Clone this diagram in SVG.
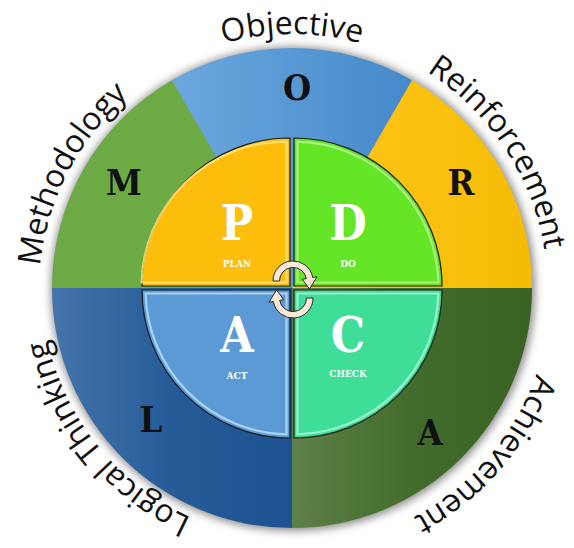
<svg xmlns="http://www.w3.org/2000/svg" width="574" height="548" viewBox="0 0 574 548">
<style>
.word{font-family:"Open Sans","Liberation Sans",sans-serif;font-size:32px;fill:#111}
.big{font-family:"DejaVu Serif","Liberation Serif",serif;font-weight:bold;font-stretch:condensed;text-anchor:middle}
.outer-letter{font-size:36px;fill:#111}
.inner-letter{font-size:48px;fill:#fff}
.inner-label{font-size:10px;fill:#fff}
.quad{stroke:#1a1a1a;stroke-width:1.2}
.hl{fill:none;stroke-width:2.2;opacity:0.85}
.arrow{fill:#FBE8D8;stroke:#2a2a2a;stroke-width:1}
</style>
<defs>
<filter id="shadow" x="-20%" y="-20%" width="140%" height="140%">
<feGaussianBlur stdDeviation="4"/>
</filter>
<linearGradient id="gM" x1="0" y1="0" x2="1" y2="0"><stop offset="0" stop-color="#6CAA45"/><stop offset="1" stop-color="#6DAC44"/></linearGradient>
<linearGradient id="gO" x1="0" y1="0" x2="1" y2="0"><stop offset="0" stop-color="#6AA8DE"/><stop offset="1" stop-color="#4689CB"/></linearGradient>
<linearGradient id="gR" x1="0" y1="0" x2="1" y2="0"><stop offset="0" stop-color="#FFC61A"/><stop offset="1" stop-color="#F5BC05"/></linearGradient>
<linearGradient id="gL" x1="0" y1="0" x2="1" y2="0"><stop offset="0" stop-color="#4574AA"/><stop offset="0.5" stop-color="#255C98"/><stop offset="1" stop-color="#1D5290"/></linearGradient>
<linearGradient id="gA" x1="0" y1="0" x2="1" y2="0"><stop offset="0" stop-color="#5E8049"/><stop offset="0.5" stop-color="#426C2B"/><stop offset="1" stop-color="#3A6323"/></linearGradient>
<path id="pObj" d="M37,289 A255,255 0 0 1 547,289"/>
<path id="pMet" d="M172.9,517.8 A258,258 0 0 1 411.1,60.2"/>
<path id="pRei" d="M148,71.4 A261,261 0 0 1 436,506.6"/>
<path id="pLog" d="M451.2,485.6 A253,253 0 0 1 132.8,92.4"/>
<path id="pAch" d="M462.5,90.1 A262,262 0 0 1 121.5,487.9"/>
</defs>

<circle cx="293" cy="289" r="242" fill="#8a8a8a" filter="url(#shadow)"/>

<g id="sector-M">
<path d="M292,288 L52,288 A240,240 0 0 1 172,80.2 Z" fill="url(#gM)"/>
<text class="big outer-letter" x="124" y="195">M</text>
<text class="word"><textPath href="#pMet" startOffset="50%" text-anchor="middle">Methodology</textPath></text>
</g>
<g id="sector-O">
<path d="M292,288 L172,80.2 A240,240 0 0 1 412,80.2 Z" fill="url(#gO)"/>
<text class="big outer-letter" x="297" y="100">O</text>
<text class="word"><textPath href="#pObj" startOffset="50%" text-anchor="middle">Objective</textPath></text>
</g>
<g id="sector-R">
<path d="M292,288 L412,80.2 A240,240 0 0 1 532,288 Z" fill="url(#gR)"/>
<text class="big outer-letter" x="461" y="195">R</text>
<text class="word"><textPath href="#pRei" startOffset="50%" text-anchor="middle">Reinforcement</textPath></text>
</g>
<g id="sector-L">
<path d="M292,288 L292,528 A240,240 0 0 1 52,288 Z" fill="url(#gL)"/>
<text class="big outer-letter" x="151" y="432">L</text>
<text class="word"><textPath href="#pLog" startOffset="50%" text-anchor="middle">Logical Thinking</textPath></text>
</g>
<g id="sector-A">
<path d="M292,288 L532,288 A240,240 0 0 1 292,528 Z" fill="url(#gA)"/>
<text class="big outer-letter" x="430" y="445">A</text>
<text class="word"><textPath href="#pAch" startOffset="50%" text-anchor="middle">Achievement</textPath></text>
</g>

<g id="quad-P">
<path class="quad" d="M290,286 L290,138 A148,148 0 0 0 142,286 Z" fill="#FDBE0B"/>
<path class="hl" d="M286.5,282.5 L286.5,141.6 A144.5,144.5 0 0 0 141.6,282.5 Z" stroke="#FFE680"/>
<text class="big inner-letter" x="237" y="240">P</text>
<text class="big inner-label" x="237" y="267">PLAN</text>
</g>
<g id="quad-D">
<path class="quad" d="M294,286 L442,286 A148,148 0 0 0 294,138 Z" fill="#64E526"/>
<path class="hl" d="M297.5,282.5 L438.4,282.5 A144.5,144.5 0 0 0 297.5,141.6 Z" stroke="#B5F590"/>
<text class="big inner-letter" x="348" y="240">D</text>
<text class="big inner-label" x="348" y="267">DO</text>
</g>
<g id="quad-A">
<path class="quad" d="M290,290 L142,290 A148,148 0 0 0 290,438 Z" fill="#5B9AD5"/>
<path class="hl" d="M286.5,293.5 L145.6,293.5 A144.5,144.5 0 0 0 286.5,434.4 Z" stroke="#B8DDF8"/>
<text class="big inner-letter" x="237" y="352">A</text>
<text class="big inner-label" x="237" y="379">ACT</text>
</g>
<g id="quad-C">
<path class="quad" d="M294,290 L294,438 A148,148 0 0 0 442,290 Z" fill="#3EDD98"/>
<path class="hl" d="M297.5,293.5 L297.5,434.4 A144.5,144.5 0 0 0 438.4,293.5 Z" stroke="#A8F7D6"/>
<text class="big inner-letter" x="348" y="352">C</text>
<text class="big inner-label" x="348" y="377">CHECK</text>
</g>

<g id="connectors">
<path class="arrow" d="M273,281 A20,20 0 0 1 312.7,277.5 L317,276.8 L309.5,289 L302.3,279.3 L306.3,278.6 A13.5,13.5 0 0 0 279.5,281 Z"/>
<path class="arrow" d="M313,298 A20,20 0 0 1 273.3,301.5 L269,302.2 L276.5,290 L283.7,299.7 L279.7,300.4 A13.5,13.5 0 0 0 306.5,298 Z"/>
</g>
</svg>
